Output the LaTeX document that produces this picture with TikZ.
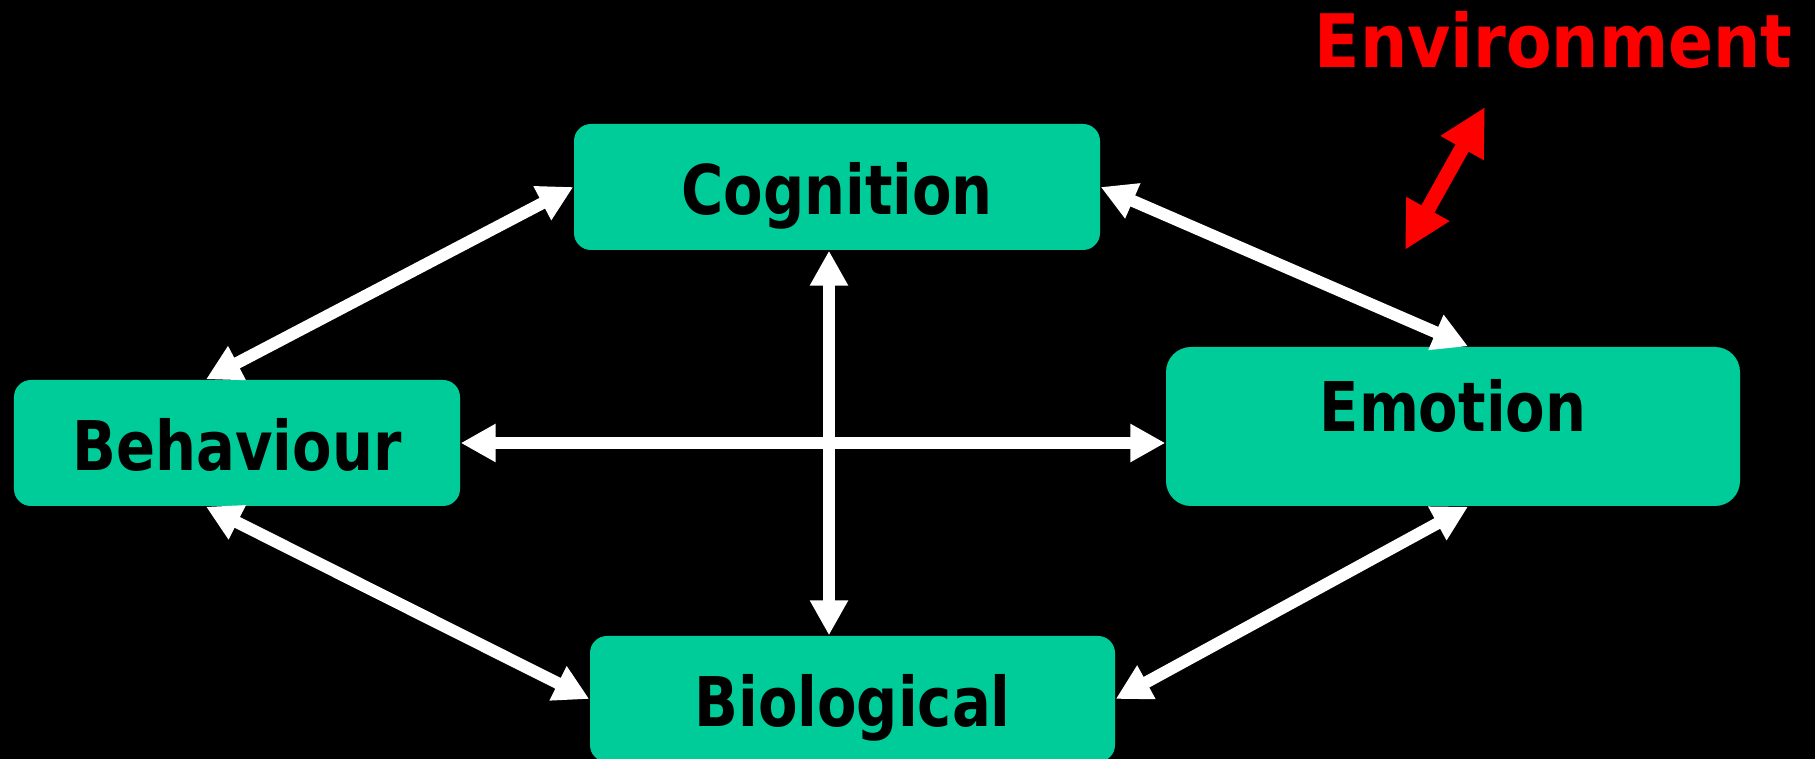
\documentclass[tikz,border=0pt]{standalone}
\usepackage{fontspec}
\newfontfamily\boxfont{DejaVu Sans}[FakeStretch=0.84]
\newfontfamily\envfont{DejaVu Sans}[FakeStretch=0.9]
\usepackage{tikz}
\usetikzlibrary{arrows.meta,calc}
\definecolor{boxgreen}{RGB}{0,204,153}

\begin{document}
\begin{tikzpicture}[
  box/.style={rectangle,fill=boxgreen,inner sep=0pt,rounded corners=1.7mm,text height=0.55cm,text depth=0pt,font=\boxfont\bfseries\fontsize{19.5}{23}\selectfont},
  arrow/.style={{Triangle[length=3.5mm,width=3.6mm]}-{Triangle[length=3.5mm,width=3.6mm]},line width=1.2mm,white},
  envarrow/.style={{Triangle[length=4.7mm,width=4.6mm]}-{Triangle[length=4.7mm,width=4.6mm]},line width=1.5mm,red},
]
\fill[black] (0,0) rectangle (18.15,7.59);
\useasboundingbox (0,0) rectangle (18.15,7.59);

\node[box,minimum width=5.26cm,minimum height=1.26cm] (cog) at (8.37,5.72) {Cognition};
\node[box,minimum width=4.46cm,minimum height=1.26cm] (beh) at (2.37,3.16) {Behaviour};
\node[box,minimum width=5.74cm,minimum height=1.59cm,rounded corners=2.5mm,text depth=0.44cm] (emo) at (14.53,3.325) {Emotion};
\node[box,minimum width=5.25cm,minimum height=1.26cm] (bio) at (8.525,0.60) {Biological};
\node[anchor=base,text=red,inner sep=0pt,font=\envfont\bfseries\fontsize{21}{25}\selectfont] (env) at (15.535,6.91) {Environment};

\coordinate (envtop) at (14.85,6.52);
\coordinate (envbot) at (14.05,5.09);

\draw[arrow] ([xshift=-3.1mm]beh.north) -- (cog.west);
\draw[arrow] (cog.east) -- ([xshift=1.5mm]emo.north);
\draw[arrow] (beh.east) -- (beh.east -| emo.west);
\draw[arrow] ([xshift=-0.8mm]cog.south) -- ([xshift=-0.8mm]cog.south |- bio.north);
\draw[arrow] ([xshift=-3.1mm]beh.south) -- (bio.west);
\draw[arrow] ([xshift=1.5mm]emo.south) -- (bio.east);
\draw[envarrow] (envtop) -- (envbot);
\end{tikzpicture}
\end{document}
